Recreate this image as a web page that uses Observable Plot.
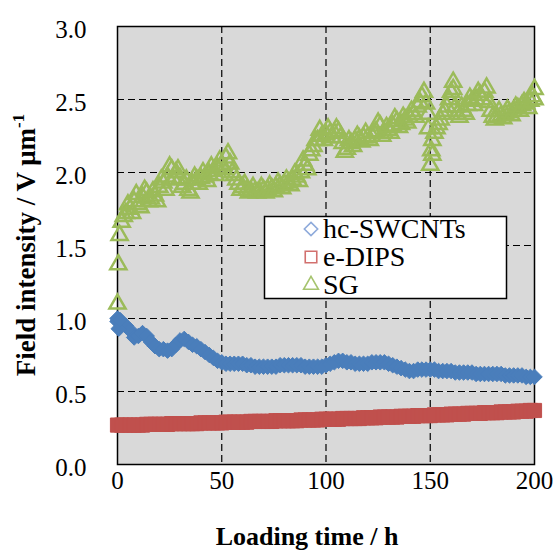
<!DOCTYPE html>
<html><head><meta charset="utf-8">
<script src="https://cdn.jsdelivr.net/npm/d3@7"></script>
<script src="https://cdn.jsdelivr.net/npm/@observablehq/plot@0.6"></script>
<style>body{margin:0;background:#fff}</style>
</head><body><div id="chart"></div>
<script>
const xTicks = [0, 50, 100, 150, 200];
const yTicks = [0, 0.5, 1.0, 1.5, 2.0, 2.5, 3.0];
const seriesNames = ["hc-SWCNTs", "e-DIPS", "SG"];
const xTitle = "Loading time / h";
const yTitle = "Field intensity / V μm";
const yTitleSup = "-1";

const gridHours = [
  0,2,4,6,8,10,12,14,16,18,
  20,22,24,26,28,30,32,34,36,38,
  40,42,44,46,48,50,52,54,56,58,
  60,62,64,66,68,70,72,74,76,78,
  80,82,84,86,88,90,92,94,96,98,
  100,102,104,106,108,110,112,114,116,118,
  120,122,124,126,128,130,132,134,136,138,
  140,142,144,146,148,150,152,154,156,158,
  160,162,164,166,168,170,172,174,176,178,
  180,182,184,186,188,190,192,194,196,198,
  200];

const hcValues = [
  0.98,0.97,0.95,0.92,0.87,0.88,0.90,0.88,0.84,0.81,
  0.79,0.79,0.78,0.79,0.82,0.85,0.86,0.84,0.82,0.81,
  0.79,0.77,0.75,0.73,0.71,0.70,0.69,0.69,0.69,0.69,
  0.69,0.68,0.68,0.67,0.67,0.67,0.67,0.67,0.67,0.68,
  0.68,0.68,0.68,0.68,0.68,0.67,0.67,0.67,0.67,0.67,
  0.68,0.69,0.70,0.71,0.71,0.70,0.70,0.69,0.69,0.69,
  0.69,0.70,0.70,0.70,0.70,0.69,0.68,0.67,0.66,0.65,
  0.64,0.64,0.65,0.65,0.65,0.65,0.65,0.64,0.64,0.64,
  0.64,0.63,0.63,0.63,0.63,0.63,0.62,0.62,0.62,0.62,
  0.62,0.62,0.62,0.61,0.61,0.61,0.61,0.61,0.60,0.60,
  0.60];
const hcExtraHours = [0, 0.6, 1.2];
const hcExtraValues = [1.00, 0.93, 0.99];

const dipsValues = [
  0.270,0.270,0.270,0.270,0.270,0.270,0.270,0.275,0.275,0.275,
  0.275,0.275,0.275,0.280,0.280,0.280,0.280,0.280,0.280,0.280,
  0.285,0.285,0.285,0.285,0.285,0.285,0.290,0.290,0.290,0.290,
  0.290,0.290,0.295,0.295,0.295,0.295,0.295,0.295,0.300,0.300,
  0.300,0.300,0.300,0.300,0.305,0.305,0.305,0.305,0.305,0.310,
  0.310,0.310,0.310,0.310,0.315,0.315,0.315,0.315,0.315,0.320,
  0.320,0.320,0.320,0.325,0.325,0.325,0.325,0.325,0.330,0.330,
  0.330,0.330,0.335,0.335,0.335,0.335,0.340,0.340,0.340,0.340,
  0.345,0.345,0.345,0.345,0.350,0.350,0.350,0.350,0.355,0.355,
  0.355,0.355,0.360,0.360,0.360,0.360,0.365,0.365,0.365,0.370,
  0.370];

const sgHours = [
  0,0.4,1,2,3,4,6,8,10,12,14,16,18,20,22,24,26,28,30,32,34,36,38,40,
  42,44,46,48,50,52,54,56,58,60,62,64,66,68,70,72,74,76,78,80,
  82,84,86,88,90,92,94,96,98,100,102,104,106,108,110,112,114,116,118,120,
  122,124,126,128,130,132,134,136,138,140,142,144,146,148,149,150,150.5,151,152,154,
  156,158,160,161,162,164,166,168,170,172,174,176,178,180,182,184,186,188,190,192,
  194,196,198,200,200];
const sgValues = [
  1.10,1.37,1.57,1.66,1.70,1.72,1.75,1.80,1.78,1.83,1.86,1.82,1.84,1.90,1.93,1.97,2.02,2.00,1.96,1.92,1.88,1.92,1.95,1.96,
  1.97,1.99,2.01,2.03,2.05,2.10,2.06,1.98,1.92,1.90,1.88,1.87,1.87,1.87,1.88,1.88,1.89,1.90,1.91,1.92,
  1.93,1.95,1.97,2.00,2.05,2.12,2.18,2.22,2.25,2.26,2.27,2.27,2.28,2.20,2.16,2.20,2.22,2.23,2.24,2.24,
  2.25,2.28,2.32,2.27,2.29,2.32,2.35,2.33,2.36,2.38,2.40,2.45,2.52,2.47,2.30,2.05,2.15,2.22,2.27,2.33,
  2.40,2.45,2.55,2.62,2.45,2.38,2.42,2.46,2.49,2.50,2.53,2.55,2.48,2.38,2.38,2.39,2.40,2.41,2.42,2.44,
  2.46,2.47,2.49,2.57,2.50];
const sgOddHours = [
  5,7,9,11,13,15,17,19,21,23,
  25,27,29,31,33,35,37,39,41,43,
  45,47,49,51,53,55,57,59,61,63,
  65,67,69,71,73,75,77,79,81,83,
  85,87,89,91,93,95,97,99,101,103,
  105,107,109,111,113,115,117,119,121,123,
  125,127,129,131,133,135,137,139,141,143,
  145,147,149,151,153,155,157,159,161,163,
  165,167,169,171,173,175,177,179,181,183,
  185,187,189,191,193,195,197,199];
const sgOddValues = [
  1.78,1.72,1.85,1.76,1.88,1.80,1.87,1.80,1.95,1.88,
  2.04,1.95,2.02,1.90,1.95,1.86,1.97,1.92,2.00,1.94,
  2.04,1.98,2.08,2.02,2.13,2.00,1.95,1.88,1.92,1.86,
  1.90,1.86,1.90,1.86,1.91,1.87,1.93,1.89,1.95,1.91,
  1.99,1.94,2.08,2.02,2.15,2.22,2.29,2.22,2.30,2.24,
  2.30,2.24,2.14,2.22,2.18,2.25,2.21,2.27,2.22,2.27,
  2.34,2.25,2.31,2.27,2.37,2.31,2.38,2.34,2.42,2.38,
  2.48,2.55,2.40,2.12,2.30,2.36,2.42,2.50,2.57,2.40,
  2.45,2.40,2.51,2.46,2.55,2.50,2.58,2.42,2.36,2.42,
  2.37,2.43,2.39,2.45,2.42,2.48,2.44,2.52];

const colors = {hc: "#4a7ebb", dips: "#c0504d", sg: "#9bbb59"};
const legendColors = {hc: "#8eaadb", dips: "#d2706e", sg: "#a6c46f"};

const hcData = gridHours.map((h, i) => ({h, v: hcValues[i]}))
  .concat(hcExtraHours.map((h, i) => ({h, v: hcExtraValues[i]})));
const dipsData = gridHours.map((h, i) => ({h, v: dipsValues[i]}));
const sgData = sgHours.map((h, i) => ({h, v: sgValues[i]}))
  .concat(sgOddHours.map((h, i) => ({h, v: sgOddValues[i]})));

const font = "Liberation Serif, Times New Roman, serif";
const gridY = yTicks.filter(d => d > 0 && d < 3);
const gridX = xTicks.filter(d => d > 0 && d < 200);

const chart = Plot.plot({
  width: 557, height: 550,
  marginLeft: 117, marginRight: 23, marginTop: 26, marginBottom: 86,
  style: {background: "white", fontFamily: font, color: "black", overflow: "visible"},
  x: {domain: [0, 200], axis: null},
  y: {domain: [0, 3], axis: null},
  marks: [
    Plot.frame({fill: "#d9d9d9"}),
    Plot.ruleY(gridY, {stroke: "black", strokeWidth: 1.2, strokeDasharray: "7,4"}),
    Plot.ruleX(gridX, {stroke: "black", strokeWidth: 1.2, strokeDasharray: "7,4"}),
    Plot.frame({stroke: "black", strokeWidth: 1.5}),
    Plot.dot(hcData, {x: "h", y: "v", symbol: "diamond2", r: 7, fill: colors.hc, stroke: colors.hc, strokeWidth: 1}),
    Plot.dot(dipsData, {x: "h", y: "v", symbol: "square", r: 8, fill: colors.dips, stroke: colors.dips, strokeWidth: 1}),
    Plot.dot(sgData, {x: "h", y: "v", symbol: "triangle", r: 6, fill: "none", stroke: colors.sg, strokeWidth: 2.5}),
    Plot.text(yTicks, {y: d => d, text: d => d.toFixed(1), frameAnchor: "left", dx: -31, dy: 3, textAnchor: "end", fontSize: 25, fontFamily: font, fill: "black"}),
    Plot.text(xTicks, {x: d => d, text: d => String(d), frameAnchor: "bottom", dy: 24.5, fontSize: 25, fontFamily: font, fill: "black"}),
    Plot.text([xTitle], {text: d => d, frameAnchor: "bottom", dx: -19, dy: 80, fontSize: 26, fontWeight: "bold", fontFamily: font, fill: "black"})
  ]
});

document.getElementById("chart").appendChild(chart);
const svg = d3.select(chart);

// Y axis title with superscript
const yt = svg.append("text")
  .attr("transform", "translate(35,245) rotate(-90)")
  .attr("text-anchor", "middle")
  .attr("font-family", font)
  .attr("font-size", 27)
  .attr("font-weight", "bold")
  .attr("fill", "black");
yt.append("tspan").text(yTitle);
yt.append("tspan").attr("font-size", 17).attr("dy", -11).text(yTitleSup);

// Legend box
const lg = svg.append("g").attr("text-anchor", "start");
lg.append("rect").attr("x", 264.5).attr("y", 216.5).attr("width", 242).attr("height", 82)
  .attr("fill", "white").attr("stroke", "black").attr("stroke-width", 1.5);
const entries = [
  {name: seriesNames[0], sym: d3.symbolDiamond2, r: 6, color: legendColors.hc},
  {name: seriesNames[1], sym: d3.symbolSquare, r: 6.5, color: legendColors.dips},
  {name: seriesNames[2], sym: d3.symbolTriangle, r: 5.5, color: legendColors.sg}
];
entries.forEach((e, i) => {
  const cy = 229 + i * 28;
  lg.append("path")
    .attr("d", d3.symbol(e.sym, Math.PI * e.r * e.r)())
    .attr("transform", `translate(311,${cy})`)
    .attr("fill", "none").attr("stroke", e.color).attr("stroke-width", 1.6);
  lg.append("text").attr("x", 323).attr("y", 238 + i * 28)
    .attr("text-anchor", "start")
    .attr("font-family", font).attr("font-size", 28).attr("fill", "black")
    .text(e.name);
});
</script>
</body></html>
